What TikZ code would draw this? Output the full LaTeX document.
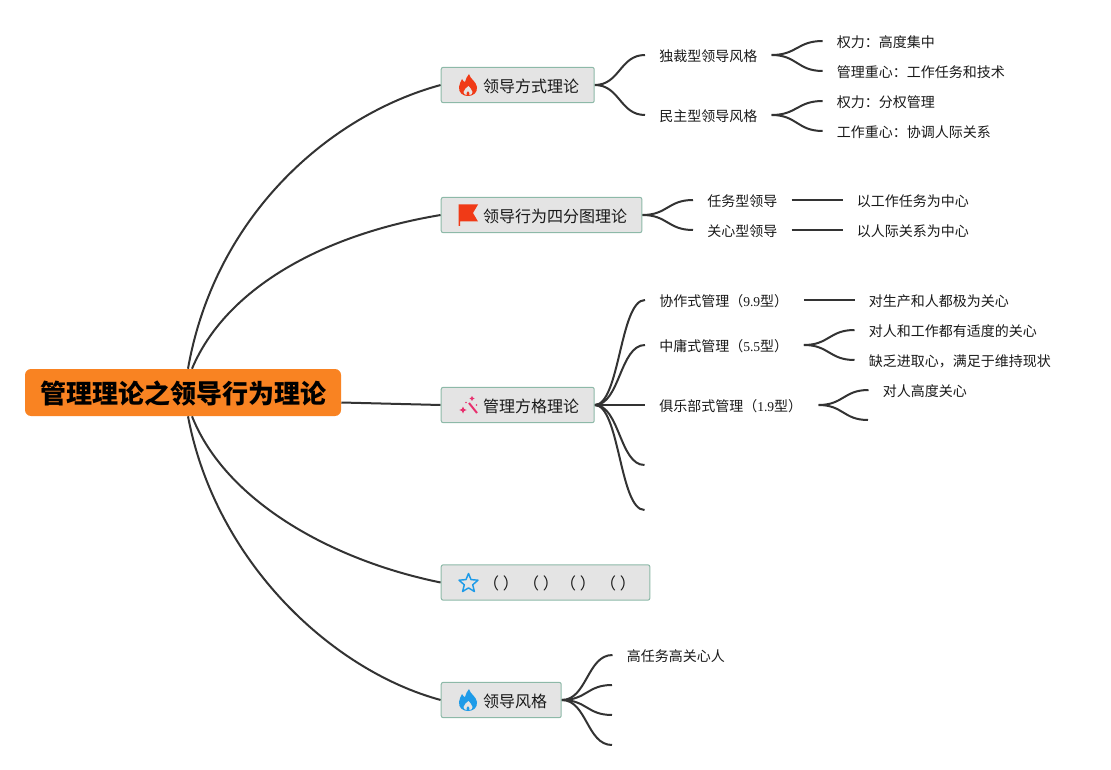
\documentclass[tikz,border=0pt]{standalone}
\usepackage{fontspec}
\setmainfont{Noto Sans CJK SC}
\newfontfamily\latinser[Scale=0.97]{Liberation Serif}
\usetikzlibrary{backgrounds,calc}
\definecolor{linec}{HTML}{333333}
\definecolor{topicfill}{HTML}{E4E4E4}
\definecolor{topicline}{HTML}{8DB9A8}
\definecolor{rootfill}{HTML}{F98322}
\definecolor{iconred}{HTML}{F03A17}
\definecolor{iconblue}{HTML}{1E9BE8}
\definecolor{iconpink}{HTML}{E8306E}
\newcommand{\topictext}[2]{\makebox[#1][l]{\hspace{31.5pt}#2}}
\tikzset{
  x=0.75pt,y=-0.75pt,
  rootbox/.style={fill=rootfill,rounded corners=4.5pt,minimum width=237pt,minimum height=35.25pt,inner sep=0pt,font=\fontsize{19.5pt}{23pt}\selectfont\bfseries,text=black,text height=16.2pt,text depth=0pt},
  topic/.style={fill=topicfill,draw=topicline,line width=0.75pt,rounded corners=1.5pt,minimum height=26.5pt,inner xsep=0pt,inner ysep=0pt,anchor=west,font=\fontsize{12pt}{14pt}\selectfont,text=black!90,text height=11pt,text depth=0.3pt},
  leaf/.style={anchor=west,inner xsep=10.5pt,inner ysep=1pt,font=\fontsize{10.5pt}{13pt}\selectfont,text=black!90,text height=10pt,text depth=0.5pt},
  conn/.style={draw=linec,line width=1.5pt},
  scurve/.style={conn,to path={let \p1=(\tikztostart),\p2=(\tikztotarget) in
     .. controls ({0.5*\x1+0.5*\x2},\y1) and ({0.5*\x1+0.5*\x2},\y2) .. (\tikztotarget)}},
  flame/.pic={
    \fill[pic actions] (1,-11) .. controls (2,-6) and (8,-4) .. (9,2) .. controls (9.5,8) and (5,11) .. (0,11)
      .. controls (-5,11) and (-9.5,8) .. (-9,2) .. controls (-9,-1) and (-7,-3) .. (-6,-6)
      .. controls (-5,-4) and (-4,-3) .. (-3,-3) .. controls (-2,-6) and (-1,-9) .. (1,-11) -- cycle;
    \fill[topicfill] (0.5,1) .. controls (1,3) and (4.5,4) .. (4.5,7) .. controls (4.5,9) and (3,10) .. (1.5,10)
      .. controls (2,8) and (1,7) .. (0,6) .. controls (-1,7) and (-2,8) .. (-1.5,10)
      .. controls (-3,10) and (-4.5,8.5) .. (-4.5,7) .. controls (-4.5,4) and (-1,3) .. (0.5,1) -- cycle;
  }
}
\begin{document}
\begin{tikzpicture}
\useasboundingbox (0,0) rectangle (1111,770);

% root and topics
\node[rootbox] (root) at (183,392.5) {\hspace{0.75pt}管理理论之领导行为理论};
\node[topic] (t1) at (440.7,85) {\topictext{114.75pt}{领导方式理论}};
\node[topic] (t2) at (440.7,215) {\topictext{150.5pt}{领导行为四分图理论}};
\node[topic] (t3) at (440.7,405) {\topictext{114.75pt}{管理方格理论}};
\node[topic] (t4) at (440.7,582.5) {\topictext{156.5pt}{\makebox[30pt][l]{（ ）}\makebox[27.75pt][l]{（ ）}\makebox[30pt][l]{（ ）}（ ）}};
\node[topic] (t5) at (440.7,700) {\topictext{90pt}{领导风格}};

% topic 1
\node[leaf] (a1) at (645,55) {独裁型领导风格};
\node[leaf] (a2) at (645,115) {民主型领导风格};
\node[leaf] (a11) at (822.7,41) {权力：高度集中};
\node[leaf] (a12) at (822.7,71) {管理重心：工作任务和技术};
\node[leaf] (a21) at (822.7,101) {权力：分权管理};
\node[leaf] (a22) at (822.7,131) {工作重心：协调人际关系};
% topic 2
\node[leaf] (b1) at (693,200) {任务型领导};
\node[leaf] (b2) at (693,230) {关心型领导};
\node[leaf] (b11) at (842.5,200) {以工作任务为中心};
\node[leaf] (b21) at (842.5,230) {以人际关系为中心};
% topic 3
\node[leaf] (c1) at (645,300) {\makebox[97.75pt][l]{协作式管理（{\latinser 9.9}型）}};
\node[leaf] (c2) at (645,345) {\makebox[97.75pt][l]{中庸式管理（{\latinser 5.5}型）}};
\node[leaf] (c3) at (645,405) {\makebox[108.75pt][l]{俱乐部式管理（{\latinser 1.9}型）}};
\coordinate (c4) at (644.5,465);
\coordinate (c5) at (644.5,510);
\node[leaf] (c11) at (854.5,300) {对生产和人都极为关心};
\node[leaf] (c21) at (854.5,330) {对人和工作都有适度的关心};
\node[leaf] (c22) at (854.5,360) {缺乏进取心，满足于维持现状};
\node[leaf] (c31) at (868.5,390) {对人高度关心};
\coordinate (c32) at (868,420);
% topic 5
\node[leaf] (e1) at (612.5,655) {高任务高关心人};
\coordinate (e2) at (612,685);
\coordinate (e3) at (612,715);
\coordinate (e4) at (612,745);

% icons
\pic[fill=iconred] at (468,85) {flame};
\pic[fill=iconblue] at (468,700) {flame};
\fill[iconred] (458.5,204.5) -- (478,204.5) -- (473,213) -- (478,221.5) -- (460,221.5) -- (460,226) -- (458.5,226) -- cycle;
\draw[iconblue,line width=1.1pt,line join=round]
  (468.5,573.5) -- (471,579.6) -- (478,580.2) -- (472.7,584.8) -- (474.4,591.5) -- (468.5,587.9)
  -- (462.6,591.5) -- (464.3,584.8) -- (459,580.2) -- (466,579.6) -- cycle;
\draw[iconpink,line width=1.5pt] (469,403) -- (477,413);
\fill[iconpink] (463,406.5) -- (464.2,409) -- (466.7,410) -- (464.2,411) -- (463,413.5) -- (461.8,411) -- (459.3,410) -- (461.8,409) -- cycle;
\fill[iconpink] (472,396) -- (472.9,397.6) -- (474.5,398.5) -- (472.9,399.4) -- (472,401) -- (471.1,399.4) -- (469.5,398.5) -- (471.1,397.6) -- cycle;
\fill[iconpink] (466,402.5) circle (0.9);
\fill[iconpink] (476.5,405) circle (0.9);

\begin{scope}[on background layer]
\draw[conn] ([xshift=3.75pt]root.north) .. controls (215,215) and (330,115) .. (t1.west);
\draw[conn] ([xshift=6.75pt]root.north) .. controls (225,290) and (320,235) .. (t2.west);
\draw[conn] ([yshift=-7.5pt]root.east) -- (t3.west);
\draw[conn] ([xshift=6.75pt]root.south) .. controls (225,500) and (330,560) .. (t4.west);
\draw[conn] ([xshift=3.75pt]root.south) .. controls (215,560) and (330,670) .. (t5.west);

\draw[scurve] (t1.east) to (a1.west);
\draw[scurve] (t1.east) to (a2.west);
\draw[scurve] (a1.east) to (a11.west);
\draw[scurve] (a1.east) to (a12.west);
\draw[scurve] (a2.east) to (a21.west);
\draw[scurve] (a2.east) to (a22.west);

\draw[scurve] (t2.east) to (b1.west);
\draw[scurve] (t2.east) to (b2.west);
\draw[conn] (b1.east) -- (b11.west);
\draw[conn] (b2.east) -- (b21.west);

\draw[scurve] (t3.east) to (c1.west);
\draw[scurve] (t3.east) to (c2.west);
\draw[conn] (t3.east) -- (c3.west);
\draw[scurve] (t3.east) to (c4);
\draw[scurve] (t3.east) to (c5);
\draw[conn] (c1.east) -- (c11.west);
\draw[scurve] (c2.east) to (c21.west);
\draw[scurve] (c2.east) to (c22.west);
\draw[scurve] (c3.east) to (c31.west);
\draw[scurve] (c3.east) to (c32);

\draw[scurve] (t5.east) to (e1.west);
\draw[scurve] (t5.east) to (e2);
\draw[scurve] (t5.east) to (e3);
\draw[scurve] (t5.east) to (e4);
\end{scope}
\end{tikzpicture}
\end{document}
